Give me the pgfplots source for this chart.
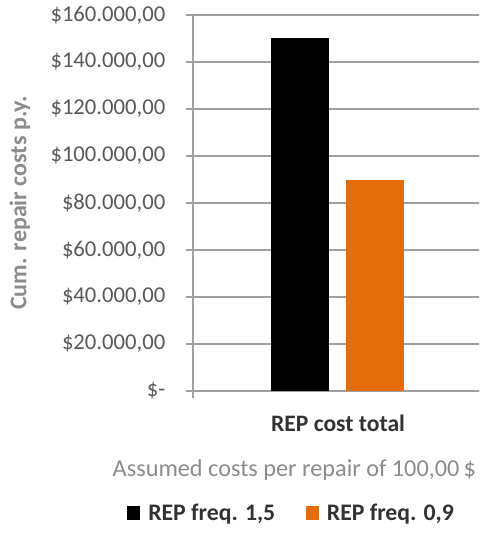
\documentclass[border=0pt]{standalone}
\usepackage{fontspec}
\setmainfont{Carlito}
\usepackage{pgfplots}
\pgfplotsset{compat=1.18}
\definecolor{orangebar}{RGB}{228,108,10}
\definecolor{gridgray}{RGB}{160,160,160}
\definecolor{ticktext}{RGB}{89,89,89}
\definecolor{titlegray}{RGB}{140,140,140}
\definecolor{darktext}{RGB}{50,50,50}
\begin{document}
\begin{tikzpicture}
\useasboundingbox (0,0) rectangle (359.25pt,-400.5pt);
\clip (0,0) rectangle (359.25pt,-400.5pt);
\begin{axis}[
  at={(144.75pt,-293.25pt)}, anchor=south west,
  scale only axis, width=217.5pt, height=282pt,
  xmin=-1, xmax=1, ymin=0, ymax=160000,
  scaled y ticks=false,
  axis x line*=bottom, axis y line*=left,
  axis line style={gridgray, line width=1.1pt},
  ymajorgrids, grid style={gridgray, line width=1.1pt},
  tick align=outside, major tick length=5.25pt,
  tick style={gridgray, line width=1.1pt},
  ytick={0,20000,40000,60000,80000,100000,120000,140000,160000},
  yticklabels={{\$-\hspace{7.5pt}},{\$20.000,00},{\$40.000,00},{\$60.000,00},{\$80.000,00},{\$100.000,00},{\$120.000,00},{\$140.000,00},{\$160.000,00}},
  yticklabel style={font=\fontsize{17}{19}\selectfont, text=ticktext, xshift=-12pt},
  xtick={-1,1}, xticklabels={},
  extra x ticks={0}, extra x tick labels={REP cost total},
  extra x tick style={major tick length=0pt, grid=none,
     xticklabel style={font=\bfseries\fontsize{17.7}{20}\selectfont, text=darktext, anchor=center, yshift=-24pt}},
  ylabel={Cum. repair costs p.y.},
  ylabel style={at={(axis description cs:-0.597,0.5)}, anchor=center, font=\bfseries\fontsize{18}{20}\selectfont, text=titlegray},
  xlabel={Assumed costs per repair of 100,00\,\$},
  xlabel style={at={(axis description cs:-0.293,-0.210)}, anchor=west, font=\fontsize{18.2}{21}\selectfont, text=titlegray},
  legend columns=2,
  legend style={at={(axis description cs:-0.2276,-0.3245)}, anchor=west, draw=none, fill=none,
     font=\bfseries\fontsize{17.8}{20}\selectfont, text=darktext, inner sep=0pt,
     /tikz/every odd column/.append style={column sep=4pt},
     /tikz/every even column/.append style={column sep=21pt}},
  legend image code/.code={\fill[#1] (0pt,-4.9pt) rectangle (9.75pt,4.9pt);},
]
\addplot[ybar, fill=black, draw=none, bar width=43.5pt, bar shift=-28.5pt] coordinates {(0,150000)};
\addplot[ybar, fill=orangebar, draw=none, bar width=43.5pt, bar shift=27.75pt] coordinates {(0,90000)};
\legend{{REP freq. 1,5}, {REP freq. 0,9}}
\end{axis}
\end{tikzpicture}
\end{document}
